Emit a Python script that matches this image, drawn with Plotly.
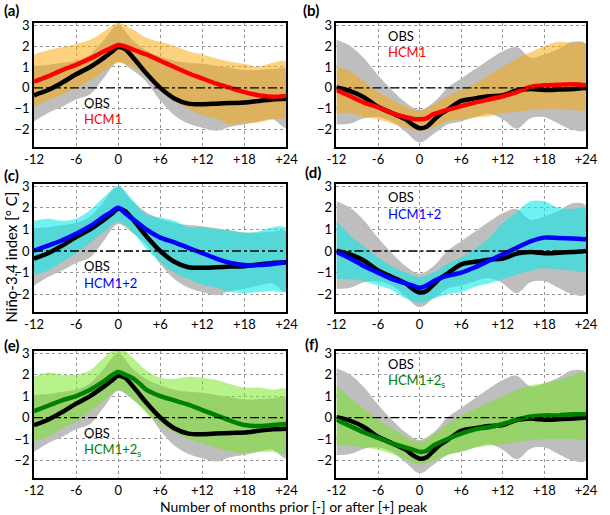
import plotly.graph_objects as go

# ---------------- data ----------------
months_band = [-12, -10, -8, -6, -4, -2, 0, 2, 4, 6, 8, 10, 12, 14, 16, 18, 20, 22, 24]
months_line = [-12, -10, -8, -6, -4, -2, -1, 0, 1, 2, 3, 4, 6, 8, 10, 12, 14, 16, 18, 20, 22, 24]

# Observations, El Nino composite (panels a, c, e)
obs_nino_mean = [-0.35, -0.1, 0.25, 0.65, 1.0, 1.45, 1.7, 1.95, 1.85, 1.5, 1.1, 0.7, 0.0, -0.5, -0.75, -0.78, -0.75, -0.72, -0.7, -0.62, -0.55, -0.52]
obs_nino_upper = [1.05, 1.1, 1.2, 1.3, 1.6, 2.3, 3.0, 2.3, 1.8, 1.5, 1.3, 1.2, 1.15, 1.05, 0.95, 0.85, 0.85, 0.9, 0.9]
obs_nino_lower = [-1.6, -1.2, -0.9, -0.55, -0.3, 0.5, 1.25, 0.85, 0.3, -0.6, -1.3, -1.7, -1.9, -2.05, -1.85, -1.75, -1.6, -1.5, -1.9]

# Observations, La Nina composite (panels b, d, f)
obs_nina_mean = [0.02, -0.15, -0.45, -0.9, -1.2, -1.5, -1.75, -1.92, -1.85, -1.55, -1.25, -1.05, -0.62, -0.5, -0.4, -0.35, -0.12, -0.05, -0.1, -0.08, -0.05, 0.0]
obs_nina_upper = [2.3, 2.0, 1.4, 0.6, -0.1, -0.7, -1.05, -0.7, 0.0, 0.45, 0.9, 1.35, 1.75, 1.95, 1.45, 1.6, 1.85, 2.2, 2.1]
obs_nina_lower = [-1.75, -1.7, -1.45, -1.4, -1.6, -2.1, -2.6, -2.2, -1.75, -1.6, -1.4, -1.25, -1.5, -1.95, -1.45, -1.4, -1.7, -2.0, -2.0]

# HCM1
hcm1_nino_mean = [0.3, 0.55, 0.85, 1.1, 1.4, 1.75, 1.9, 2.05, 1.98, 1.85, 1.72, 1.6, 1.3, 1.0, 0.7, 0.45, 0.2, 0.0, -0.2, -0.35, -0.42, -0.38]
hcm1_nino_upper = [1.6, 1.8, 1.95, 2.1, 2.3, 2.7, 3.1, 2.8, 2.4, 2.2, 2.0, 1.75, 1.6, 1.4, 1.25, 1.15, 1.0, 1.2, 1.25]
hcm1_nino_lower = [-0.9, -0.6, -0.3, 0.0, 0.35, 0.8, 1.2, 1.0, 0.6, 0.0, -0.6, -1.0, -1.3, -1.45, -1.75, -1.65, -1.65, -1.5, -1.35]
hcm1_nina_mean = [-0.1, -0.4, -0.7, -0.92, -1.2, -1.4, -1.47, -1.5, -1.45, -1.25, -1.15, -1.05, -0.87, -0.7, -0.55, -0.4, -0.2, 0.05, 0.13, 0.15, 0.18, 0.13]
hcm1_nina_upper = [1.0, 0.8, 0.3, -0.2, -0.55, -0.9, -1.1, -0.8, -0.4, -0.1, 0.2, 0.6, 1.0, 1.4, 1.7, 2.0, 2.2, 2.15, 2.1]
hcm1_nina_lower = [-1.2, -1.2, -1.4, -1.5, -1.7, -1.9, -2.05, -1.9, -1.6, -1.5, -1.4, -1.35, -1.2, -1.15, -1.05, -1.0, -1.0, -1.05, -1.0]

# HCM1+2
hcm12_nino_mean = [0.02, 0.25, 0.5, 0.8, 1.15, 1.6, 1.8, 2.0, 1.75, 1.5, 1.25, 1.0, 0.62, 0.4, 0.15, -0.1, -0.35, -0.55, -0.65, -0.65, -0.6, -0.52]
hcm12_nino_upper = [1.4, 1.5, 1.4, 1.5, 1.9, 2.5, 3.0, 2.4, 1.7, 1.55, 1.4, 1.1, 1.1, 1.0, 0.95, 0.85, 0.9, 1.1, 1.05]
hcm12_nino_lower = [-1.1, -0.9, -0.5, -0.1, 0.4, 0.9, 1.35, 0.9, 0.1, -0.5, -1.0, -1.3, -1.55, -1.7, -1.9, -1.95, -1.9, -1.85, -1.85]
hcm12_nina_mean = [-0.05, -0.35, -0.7, -1.0, -1.3, -1.5, -1.6, -1.7, -1.6, -1.4, -1.25, -1.15, -1.0, -0.75, -0.45, -0.15, 0.15, 0.45, 0.62, 0.6, 0.58, 0.55]
hcm12_nina_upper = [1.4, 0.7, 0.2, -0.3, -0.7, -1.0, -1.2, -1.0, -0.6, -0.3, 0.1, 0.6, 1.3, 1.8, 2.3, 2.3, 2.0, 1.95, 1.95]
hcm12_nina_lower = [-1.3, -1.3, -1.4, -1.6, -1.8, -2.2, -2.4, -2.2, -2.0, -1.9, -1.65, -1.5, -1.3, -1.1, -0.9, -0.8, -0.85, -0.9, -0.9]

# HCM1+2s
hcm12s_nino_mean = [0.3, 0.55, 0.8, 1.0, 1.3, 1.7, 1.95, 2.12, 2.0, 1.85, 1.6, 1.3, 1.0, 0.8, 0.6, 0.35, 0.1, -0.15, -0.35, -0.4, -0.35, -0.3]
hcm12s_nino_upper = [1.9, 2.1, 2.0, 2.0, 2.2, 2.8, 3.3, 2.8, 2.2, 1.85, 1.8, 1.9, 1.85, 1.75, 1.55, 1.4, 1.4, 1.3, 1.3]
hcm12s_nino_lower = [-1.1, -0.9, -0.5, -0.2, 0.3, 0.8, 1.3, 0.9, 0.2, -0.3, -0.7, -1.0, -1.2, -1.4, -1.6, -1.65, -1.6, -1.6, -1.65]
hcm12s_nina_mean = [-0.1, -0.4, -0.7, -0.95, -1.2, -1.4, -1.5, -1.6, -1.55, -1.3, -1.15, -1.0, -0.75, -0.55, -0.45, -0.3, -0.1, 0.05, 0.1, 0.1, 0.15, 0.15]
hcm12s_nina_upper = [1.5, 0.9, 0.4, -0.1, -0.5, -0.9, -1.15, -0.8, -0.3, 0.1, 0.4, 0.7, 1.0, 1.3, 1.5, 1.6, 1.75, 1.95, 2.05]
hcm12s_nina_lower = [-1.3, -1.3, -1.4, -1.5, -1.7, -1.95, -2.2, -2.0, -1.75, -1.6, -1.4, -1.3, -1.25, -1.15, -1.05, -1.0, -1.0, -1.0, -1.0]

x_tickvals = [-12, -6, 0, 6, 12, 18, 24]
x_ticktext = ["-12", "-6", "0", "+6", "+12", "+18", "+24"]
y_tickvals = [-2, -1, 0, 1, 2, 3]
panel_labels = ["(a)", "(b)", "(c)", "(d)", "(e)", "(f)"]
model_names = ["HCM1", "HCM1", "HCM1+2", "HCM1+2", "HCM1+2<sub>s</sub>", "HCM1+2<sub>s</sub>"]

# ---------------- styling ----------------
FONT = "Lato, 'Open Sans', sans-serif"
GRAY_FILL = "rgb(190,190,190)"
model_line_colors = ["rgb(255,0,0)", "rgb(255,0,0)", "rgb(0,0,255)", "rgb(0,0,255)", "rgb(0,128,0)", "rgb(0,128,0)"]
model_fill_colors = ["rgba(249,165,0,0.5)", "rgba(249,165,0,0.5)",
                     "rgba(9,233,233,0.58)", "rgba(9,233,233,0.58)",
                     "rgba(113,229,21,0.5)", "rgba(113,229,21,0.5)"]

panels = [
    (obs_nino_mean, obs_nino_upper, obs_nino_lower, hcm1_nino_mean, hcm1_nino_upper, hcm1_nino_lower),
    (obs_nina_mean, obs_nina_upper, obs_nina_lower, hcm1_nina_mean, hcm1_nina_upper, hcm1_nina_lower),
    (obs_nino_mean, obs_nino_upper, obs_nino_lower, hcm12_nino_mean, hcm12_nino_upper, hcm12_nino_lower),
    (obs_nina_mean, obs_nina_upper, obs_nina_lower, hcm12_nina_mean, hcm12_nina_upper, hcm12_nina_lower),
    (obs_nino_mean, obs_nino_upper, obs_nino_lower, hcm12s_nino_mean, hcm12s_nino_upper, hcm12s_nino_lower),
    (obs_nina_mean, obs_nina_upper, obs_nina_lower, hcm12s_nina_mean, hcm12s_nina_upper, hcm12s_nina_lower),
]

W, H = 610, 515
ML, MR, MT, MB = 34, 12, 23, 37
PW, PH = W - ML - MR, H - MT - MB


def px_x(p):
    return (p - ML) / PW


def px_y(p):
    return (H - MB - p) / PH


x_domains = [[0.0, 0.4574], [0.5479, 1.0]]
y_domains = [[0.7275, 1.0], [0.365, 0.646], [0.0, 0.279]]
label_pos = [(1, 10), (307, 10), (1, 175), (309, 172), (1, 345), (309, 344)]

fig = go.Figure()
layout_axes = {}
shapes = []
annotations = []

for i, (om, ou, ol, mm, mu, ml) in enumerate(panels):
    n = i + 1
    xa = "x" if n == 1 else f"x{n}"
    ya = "y" if n == 1 else f"y{n}"
    row, col = i // 2, i % 2
    band_x = months_band + months_band[::-1]
    fig.add_trace(go.Scatter(x=band_x, y=ou + ol[::-1], fill="toself", fillcolor=GRAY_FILL,
                             line=dict(width=0, shape="spline"), mode="lines", hoverinfo="skip",
                             showlegend=False, xaxis=xa, yaxis=ya))
    fig.add_trace(go.Scatter(x=band_x, y=mu + ml[::-1], fill="toself", fillcolor=model_fill_colors[i],
                             line=dict(width=0, shape="spline"), mode="lines", hoverinfo="skip",
                             showlegend=False, xaxis=xa, yaxis=ya))
    fig.add_trace(go.Scatter(x=months_line, y=om, mode="lines",
                             line=dict(color="black", width=4.5, shape="spline", smoothing=0.8),
                             showlegend=False, xaxis=xa, yaxis=ya))
    fig.add_trace(go.Scatter(x=months_line, y=mm, mode="lines",
                             line=dict(color=model_line_colors[i], width=4.5, shape="spline", smoothing=0.8),
                             showlegend=False, xaxis=xa, yaxis=ya))

    xkey = "xaxis" if n == 1 else f"xaxis{n}"
    ykey = "yaxis" if n == 1 else f"yaxis{n}"
    layout_axes[xkey] = dict(domain=x_domains[col], anchor=ya, range=[-12, 24],
                             tickvals=x_tickvals, ticktext=x_ticktext,
                             showgrid=True, gridcolor="rgb(150,150,150)", griddash="dot", gridwidth=1,
                             showline=True, mirror=True, linecolor="black", linewidth=1.5,
                             ticks="", zeroline=False, layer="above traces",
                             tickfont=dict(size=13, color="black", family=FONT))
    layout_axes[ykey] = dict(domain=y_domains[row], anchor=xa, range=[-2.82, 3.1],
                             tickvals=y_tickvals,
                             showgrid=True, gridcolor="rgb(150,150,150)", griddash="dot", gridwidth=1,
                             showline=True, mirror=True, linecolor="black", linewidth=1.5,
                             ticks="", zeroline=False, layer="above traces",
                             tickfont=dict(size=13, color="black", family=FONT))
    shapes.append(dict(type="line", xref=f"{xa} domain", yref=ya, x0=0, x1=1, y0=0, y1=0,
                       line=dict(color="black", width=1.3, dash="dashdot"), layer="above"))

    # panel label
    lx, ly = label_pos[i]
    annotations.append(dict(text=f"<b>{panel_labels[i]}</b>", xref="paper", yref="paper",
                            x=px_x(lx), y=px_y(ly), xanchor="left", yanchor="middle",
                            showarrow=False, font=dict(size=15, color="black", family=FONT)))
    # OBS / model text
    if col == 0:
        oy, my = -0.7, -1.5
        tx = -5.2
    else:
        oy, my = 2.5, 1.7
        tx = -4.9
    annotations.append(dict(text="OBS", xref=xa, yref=ya, x=tx, y=oy, xanchor="left", yanchor="middle",
                            showarrow=False, font=dict(size=13, color="black", family=FONT)))
    annotations.append(dict(text=model_names[i], xref=xa, yref=ya, x=tx, y=my, xanchor="left", yanchor="middle",
                            showarrow=False, font=dict(size=13, color=model_line_colors[i], family=FONT)))

annotations.append(dict(text="Niño-3.4 index [° C]", xref="paper", yref="paper", x=px_x(10), y=px_y(257),
                        textangle=-90, xanchor="center", yanchor="middle", showarrow=False,
                        font=dict(size=15, color="black", family=FONT)))
annotations.append(dict(text="Number of months prior [-] or after [+] peak", xref="paper", yref="paper",
                        x=px_x(300), y=px_y(506), xanchor="center", yanchor="middle", showarrow=False,
                        font=dict(size=14, color="black", family=FONT)))

fig.update_layout(width=W, height=H, margin=dict(l=ML, r=MR, t=MT, b=MB),
                  plot_bgcolor="white", paper_bgcolor="white",
                  shapes=shapes, annotations=annotations, **layout_axes)

fig.write_html("out.html", config={"displayModeBar": False},
               post_script="document.body.style.margin='0';")
